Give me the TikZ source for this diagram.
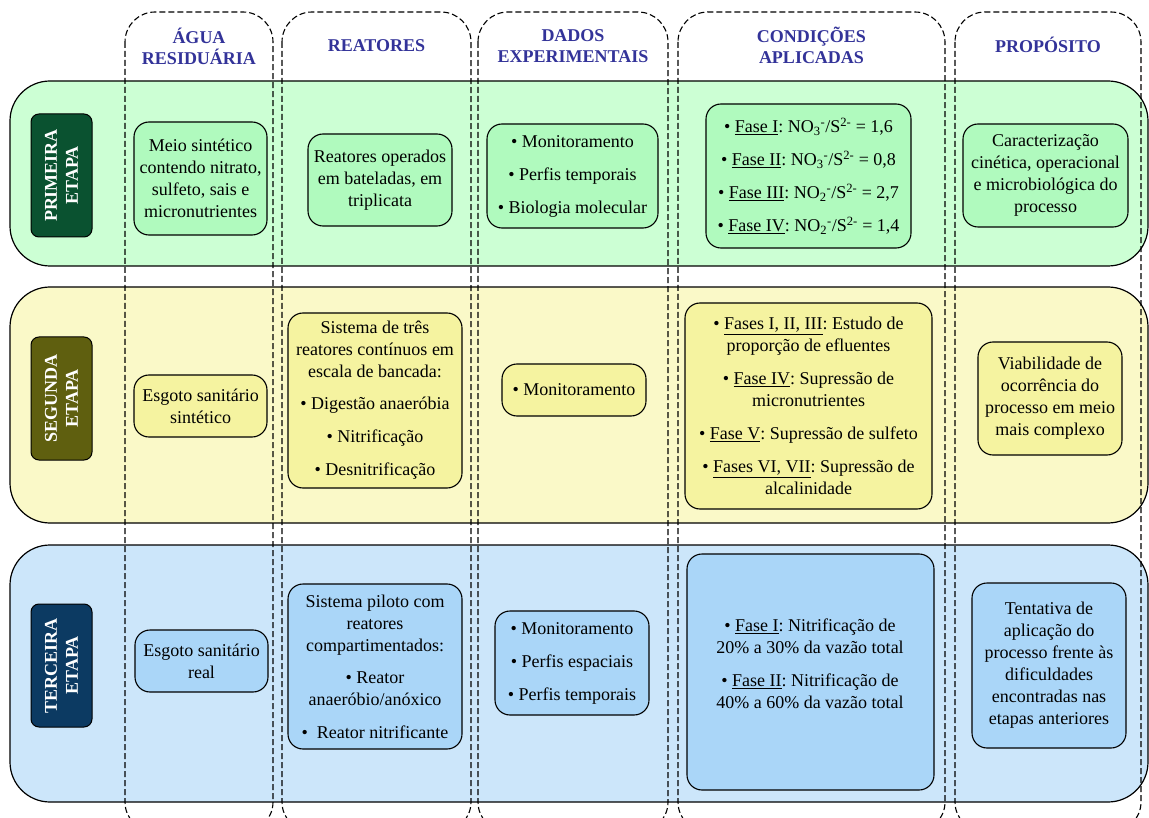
\documentclass[tikz,border=0pt]{standalone}
\usepackage{fontspec}
\setmainfont{Liberation Serif}
\frenchspacing
\definecolor{rowA}{RGB}{204,255,212}
\definecolor{boxA}{RGB}{176,250,190}
\definecolor{rowB}{RGB}{250,249,200}
\definecolor{boxB}{RGB}{245,243,160}
\definecolor{rowC}{RGB}{204,230,250}
\definecolor{boxC}{RGB}{170,214,248}
\definecolor{stA}{RGB}{10,82,48}
\definecolor{stB}{RGB}{95,95,15}
\definecolor{stC}{RGB}{12,58,98}
\definecolor{hdr}{RGB}{51,51,153}
\tikzset{
  every node/.style={font=\fontsize{18}{22}\selectfont\frenchspacing},
  rowbox/.style={draw=black, line width=1.2pt, rounded corners=40pt},
  colbox/.style={draw=black, line width=1.1pt, dash pattern=on 6pt off 3pt, rounded corners=30pt},
  inbox/.style={draw=black, line width=1.1pt, rounded corners=15pt, align=center, inner sep=1pt},
  stage/.style={draw=black, line width=1pt, rounded corners=8pt, minimum width=61pt, minimum height=123pt},
  stagetxt/.style={rotate=90, align=center, text=white, font=\fontsize{18}{21}\selectfont\bfseries},
  hdrtxt/.style={align=center, text=hdr, font=\fontsize{18}{21}\selectfont\bfseries},
}
\begin{document}
\begin{tikzpicture}[x=1pt,y=-1pt]
\clip (0,0) rectangle (1149,818);
\fill[white] (0,0) rectangle (1149,818);
% rows
\draw[rowbox, fill=rowA] (10,81) rectangle (1148,266);
\draw[rowbox, fill=rowB] (10,287) rectangle (1148,523);
\draw[rowbox, fill=rowC] (10,545) rectangle (1148,802);
% columns
\draw[colbox] (125,12) rectangle (273,832);
\draw[colbox] (282,12) rectangle (471,832);
\draw[colbox] (478,12) rectangle (668,832);
\draw[colbox] (678,12) rectangle (945,832);
\draw[colbox] (955,12) rectangle (1141,832);
% headers
\node[hdrtxt] (h1) at (199,46) {ÁGUA\\RESIDUÁRIA};
\node[hdrtxt] (h2) at (376.5,46) {REATORES};
\node[hdrtxt] (h3) at (573,46) {DADOS\\EXPERIMENTAIS};
\node[hdrtxt] (h4) at (811.5,45) {CONDIÇÕES\\APLICADAS};
\node[hdrtxt] (h5) at (1048,45) {PROPÓSITO};
% stage labels
\node[stage, fill=stA] (s1) at (61.5,175.5) {};
\node[stagetxt] (s1t) at (s1.center) {PRIMEIRA\\ETAPA};
\node[stage, fill=stB] (s2) at (61.5,398.5) {};
\node[stagetxt] (s2t) at (s2.center) {SEGUNDA\\ETAPA};
\node[stage, fill=stC] (s3) at (61.5,665.5) {};
\node[stagetxt] (s3t) at (s3.center) {TERCEIRA\\ETAPA};
% row 1
\node[inbox, fill=boxA, minimum width=133pt, minimum height=113pt] (a1) at (200.5,178.5) {Meio sintético\\contendo nitrato,\\sulfeto, sais e\\micronutrientes};
\node[inbox, fill=boxA, minimum width=144pt, minimum height=92pt] (r1) at (380,180) {Reatores operados\\em bateladas, em\\triplicata};
\node[inbox, fill=boxA, minimum width=171pt, minimum height=104pt] (d1) at (572.5,176) {• Monitoramento\\[11pt]• Perfis temporais\\[11pt]• Biologia molecular};
\node[inbox, fill=boxA, minimum width=205pt, minimum height=144pt] (c1) at (808.5,176) {• \underline{Fase I}: NO\textsubscript{3}\textsuperscript{-}/S\textsuperscript{2-} = 1,6\\[11pt]• \underline{Fase II}: NO\textsubscript{3}\textsuperscript{-}/S\textsuperscript{2-} = 0,8\\[11pt]• \underline{Fase III}: NO\textsubscript{2}\textsuperscript{-}/S\textsuperscript{2-} = 2,7\\[11pt]• \underline{Fase IV}: NO\textsubscript{2}\textsuperscript{-}/S\textsuperscript{2-} = 1,4};
\node[inbox, fill=boxA, minimum width=165pt, minimum height=103pt] (p1) at (1045.5,175.5) {Caracterização\\cinética, operacional\\e microbiológica do\\processo};
% row 2
\node[inbox, fill=boxB, minimum width=133pt, minimum height=62pt] (a2) at (200.5,406) {Esgoto sanitário\\sintético};
\node[inbox, fill=boxB, minimum width=174pt, minimum height=175pt] (r2) at (375,400.5) {Sistema de três\\reatores contínuos em\\escala de bancada:\\[10pt]• Digestão anaeróbia\\[11pt]• Nitrificação\\[11pt]• Desnitrificação};
\node[inbox, fill=boxB, minimum width=144pt, minimum height=52pt] (d2) at (574,390) {• Monitoramento};
\node[inbox, fill=boxB, minimum width=247pt, minimum height=206pt] (c2) at (808.5,406) {• \underline{Fases I, II, III}: Estudo de\\proporção de efluentes\\[11pt]• \underline{Fase IV}: Supressão de\\micronutrientes\\[11pt]• \underline{Fase V}: Supressão de sulfeto\\[11pt]• \underline{Fases VI, VII}: Supressão de\\alcalinidade};
\node[inbox, fill=boxB, minimum width=144pt, minimum height=113pt] (p2) at (1050,398.5) {Viabilidade de\\ocorrência do\\processo em meio\\mais complexo};
% row 3
\node[inbox, fill=boxC, minimum width=133pt, minimum height=62pt] (a3) at (201.5,661) {Esgoto sanitário\\real};
\node[inbox, fill=boxC, minimum width=174pt, minimum height=165pt] (r3) at (375,666.5) {Sistema piloto com\\reatores\\compartimentados:\\[10pt]• Reator\\anaeróbio/anóxico\\[11pt]•\enspace Reator nitrificante};
\node[inbox, fill=boxC, minimum width=154pt, minimum height=104pt] (d3) at (572,663) {• Monitoramento\\[11pt]• Perfis espaciais\\[11pt]• Perfis temporais};
\node[inbox, fill=boxC, minimum width=247pt, minimum height=236pt] (c3) at (810.5,672) {};
\node[align=center] (c3t) at (810,664) {• \underline{Fase I}: Nitrificação de\\20\% a 30\% da vazão total\\[11pt]• \underline{Fase II}: Nitrificação de\\40\% a 60\% da vazão total};
\node[inbox, fill=boxC, minimum width=154pt, minimum height=165pt] (p3) at (1049,665.5) {Tentativa de\\aplicação do\\processo frente às\\dificuldades\\encontradas nas\\etapas anteriores};
\end{tikzpicture}
\end{document}
